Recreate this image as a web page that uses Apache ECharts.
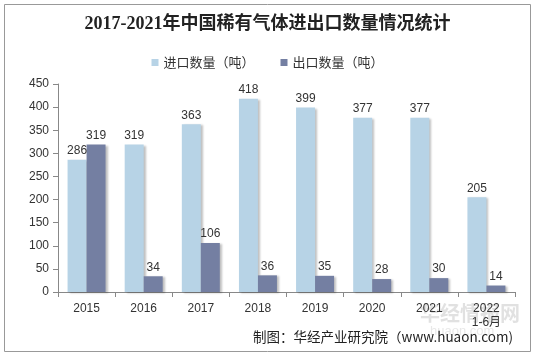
<!DOCTYPE html>
<html><head><meta charset="utf-8">
<script src="https://cdn.jsdelivr.net/npm/echarts@6/dist/echarts.min.js"></script>
<style>html,body{margin:0;padding:0;background:#fff}#c{width:535px;height:357px}</style>
</head><body><div id="c"></div>
<script>
const categories = ['2015','2016','2017','2018','2019','2020','2021','2022\n1-6月'];
const importVals = [286,319,363,418,399,377,377,205];
const exportVals = [319,34,106,36,35,28,30,14];
const yTicks = [0,50,100,150,200,250,300,350,400,450];

const chart = echarts.init(document.getElementById('c'));
const lbl = {show:true, position:'top', color:'#333', fontSize:12, fontFamily:'Liberation Sans, Arial', distance:3};
chart.setOption({
  animation:false,
  title:{text:'2017-2021年中国稀有气体进出口数量情况统计', left:'center', top:10,
    textStyle:{fontFamily:'Liberation Serif, Noto Sans CJK SC', fontSize:18, fontWeight:'bold', color:'#222'}},
  legend:{top:51, left:'center', itemWidth:7, itemHeight:7, itemGap:26, icon:'rect',
    textStyle:{fontFamily:'Noto Sans CJK SC', fontSize:13, color:'#333'},
    data:['进口数量（吨）','出口数量（吨）']},
  grid:{left:58, right:20, top:84, bottom:65},
  xAxis:{type:'category', data:categories,
    axisLine:{lineStyle:{color:'#888'}},
    axisTick:{show:true, alignWithLabel:false, length:5, lineStyle:{color:'#888'}},
    axisLabel:{color:'#333', fontSize:12, fontFamily:'Liberation Sans, Noto Sans CJK SC', margin:10, lineHeight:14}},
  yAxis:{type:'value', min:0, max:450, interval:50,
    axisLine:{show:true, lineStyle:{color:'#888'}},
    axisTick:{show:true, length:5, lineStyle:{color:'#888'}},
    splitLine:{show:false},
    axisLabel:{color:'#333', fontSize:12, fontFamily:'Liberation Sans, Arial', margin:9,
      formatter:v=>yTicks.includes(v)?String(v):''}},
  series:[
    {name:'进口数量（吨）', type:'bar', data:importVals, barWidth:19, barGap:'0%',
     itemStyle:{color:'#B7D3E6', shadowColor:'rgba(0,0,0,0.25)', shadowOffsetX:2, shadowOffsetY:1, shadowBlur:2}, label:lbl},
    {name:'出口数量（吨）', type:'bar', data:exportVals, barWidth:19,
     itemStyle:{color:'#747FA2', shadowColor:'rgba(0,0,0,0.25)', shadowOffsetX:2, shadowOffsetY:1, shadowBlur:2}, label:lbl}
  ],
  graphic:[
    {type:'rect', shape:{x:4.5, y:4.5, width:526, height:347}, style:{fill:'none', stroke:'#999', lineWidth:1}, silent:true},
    {type:'text', left:420, top:303, style:{text:'华经情报网', fill:'rgba(170,170,170,0.35)', font:'bold 20px Noto Sans CJK SC'}},
    {type:'text', left:430, top:325, style:{text:'huaon.com', fill:'rgba(190,190,190,0.35)', font:'13px Liberation Sans'}},
    {type:'text', right:22, top:330, style:{text:'制图：华经产业研究院（www.huaon.com)', fill:'#222', font:'13.5px Noto Sans CJK SC'}}
  ]
});
</script></body></html>
